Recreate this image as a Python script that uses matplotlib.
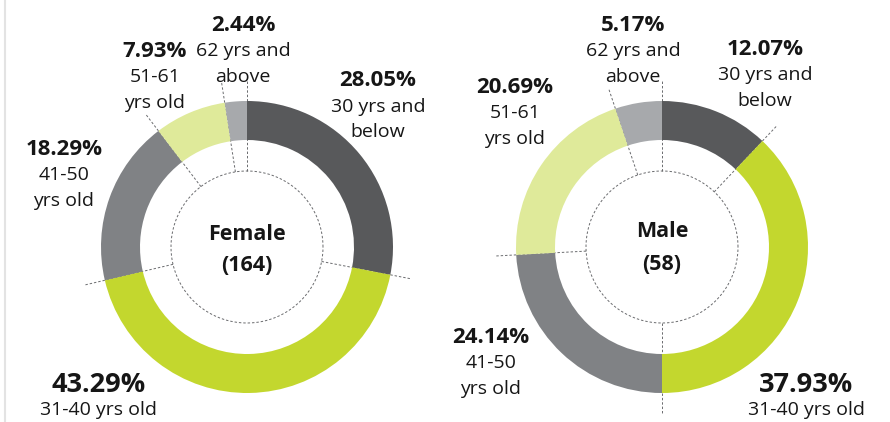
import numpy as np
import matplotlib
matplotlib.use("Agg")
import matplotlib.pyplot as plt
from matplotlib.lines import Line2D

plt.rcParams['font.family'] = ['Open Sans', 'DejaVu Sans']

# ---- data ----
age_groups = ["30 yrs and\nbelow", "31-40 yrs old", "41-50\nyrs old", "51-61\nyrs old", "62 yrs and\nabove"]
female_pct = [28.05, 43.29, 18.29, 7.93, 2.44]
male_pct = [12.07, 37.93, 24.14, 20.69, 5.17]
genders = ["Female", "Male"]
totals = [164, 58]
colors = ["#58595b", "#c3d72e", "#808285", "#dfea9a", "#a7a9ac"]

# ---- layout (pixels, origin top-left) ----
W, H = 890, 422
centers = [(247, 247), (662, 247)]
R_out, R_in, R_dash, R_lead = 146, 107, 76, 166
# label anchor: (center x, first baseline y) per category
label_pos = [
    [(378, 86), (99, 392), (64, 155), (155, 57), (243, 31)],
    [(765, 55), (806, 392), (491, 343), (515, 93), (633, 31)],
]
big_idx = 1  # largest share label drawn bigger
center_baselines = [(240, 271), (237, 270)]

TXT = "#161616"
LINE = "#6a6b6e"

fig = plt.figure(figsize=(W / 100, H / 100), dpi=100)
ax = fig.add_axes([0, 0, 1, 1])

def Y(py):
    return H - py

for g, (vals, (cx, cy)) in enumerate(zip([female_pct, male_pct], centers)):
    ax.pie(vals, center=(cx, Y(cy)), radius=R_out, startangle=90,
           counterclock=False, colors=colors,
           wedgeprops=dict(width=R_out - R_in, linewidth=0, zorder=3))
    # dashed inner circle
    t = np.linspace(0, 2 * np.pi, 400)
    ax.plot(cx + R_dash * np.cos(t), Y(cy) + R_dash * np.sin(t),
            color=LINE, lw=0.7, ls=(0, (2.5, 2)), zorder=1)
    # radial leader lines at boundaries
    bounds = np.concatenate([[0], np.cumsum(vals)[:-1]]) / np.sum(vals)
    for b in bounds:
        ang = np.deg2rad(90 - 360 * b)
        ax.plot([cx + R_dash * np.cos(ang), cx + R_lead * np.cos(ang)],
                [Y(cy) + R_dash * np.sin(ang), Y(cy) + R_lead * np.sin(ang)],
                color=LINE, lw=0.7, ls=(0, (2.5, 2)), zorder=1)
    # labels
    for i, (pct, lab) in enumerate(zip(vals, age_groups)):
        x, y0 = label_pos[g][i]
        big = (i == big_idx)
        ax.text(x, Y(y0), f"{pct:.2f}%", ha="center", va="baseline",
                fontsize=19.5 if big else 16, fontweight="bold", color=TXT)
        step = 23 if big else 25.5
        for k, line in enumerate(lab.split("\n")):
            ax.text(x, Y(y0 + step * (k + 1)), line, ha="center", va="baseline",
                    fontsize=14, color=TXT)
    # center text
    b1, b2 = center_baselines[g]
    ax.text(cx, Y(b1), genders[g], ha="center", va="baseline",
            fontsize=15.5, fontweight="bold", color=TXT)
    ax.text(cx, Y(b2), f"({totals[g]})", ha="center", va="baseline",
            fontsize=15.5, fontweight="bold", color=TXT)

ax.set_xlim(0, W)
ax.set_ylim(0, H)
ax.set_aspect("auto")
ax.axis("off")

fig.add_artist(Line2D([4.5 / W, 4.5 / W], [0, 1], color="#e3e3e3", lw=1.5))

fig.savefig("out.png", dpi=100, facecolor="white")
